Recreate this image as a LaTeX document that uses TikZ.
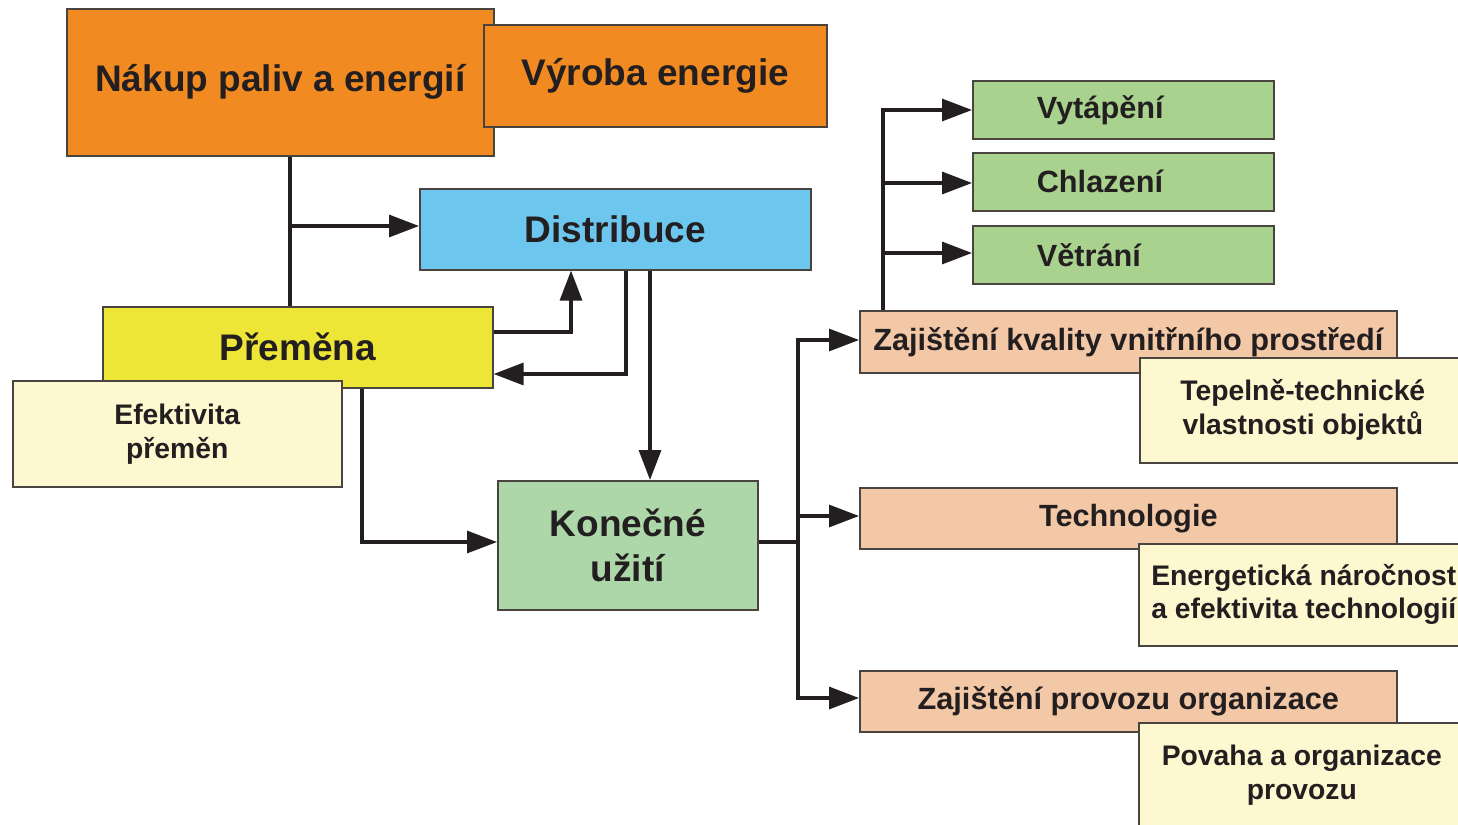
\documentclass[tikz,border=0pt]{standalone}
\usepackage{fontspec}
\newfontfamily\lbl{Liberation Sans}
\usetikzlibrary{arrows.meta,backgrounds}
\definecolor{orng}{HTML}{F28A22}
\definecolor{blu}{HTML}{6DC6EE}
\definecolor{yel}{HTML}{EEE637}
\definecolor{lyel}{HTML}{FEF8D0}
\definecolor{grnA}{HTML}{ADD7A8}
\definecolor{grnB}{HTML}{A9D28F}
\definecolor{salm}{HTML}{F3C8A6}
\definecolor{boxedge}{HTML}{4A4440}
\definecolor{txt}{HTML}{231F20}
\begin{document}
\begin{tikzpicture}[x=1pt,y=-1pt,
  box/.style={draw=boxedge,line width=1.6pt,inner sep=0pt,align=center,
    font=\lbl\bfseries,text=txt,anchor=north west},
  big/.style={font=\lbl\bfseries\fontsize{37}{45}\selectfont},
  mid/.style={font=\lbl\bfseries\fontsize{30.7}{34}\selectfont},
  sml/.style={font=\lbl\bfseries\fontsize{28.3}{34}\selectfont},
  grbox/.style={box,mid,fill=grnB,minimum width=301,minimum height=58,
    text width=173,inner xsep=64,align=left},
  conn/.style={line width=3.2pt,draw=txt,line cap=rect},
  arr/.style={line width=3.2pt,draw=txt,-{Triangle[length=30pt,width=22pt]}}]
\begin{scope}[on background layer]
\fill[white] (0,0) rectangle (1458,824);
\end{scope}
\useasboundingbox (0,0) rectangle (1458,824);
% top
\node[box,big,fill=orng,minimum width=427,minimum height=147] (nakup) at (66,8) {N\'akup paliv a energi\'i};
\node[box,big,fill=orng,minimum width=343,minimum height=102] (vyroba) at (483,24) {V\'yroba energie};
\node[box,big,fill=blu,minimum width=391,minimum height=81] (distrib) at (419,188) {Distribuce};
\node[box,big,fill=yel,minimum width=390,minimum height=81] (premena) at (102,306) {P\v{r}em\v{e}na};
\node[box,sml,fill=lyel,minimum width=329,minimum height=106] (efekt) at (12,380) {Efektivita\\p\v{r}em\v{e}n};
\node[box,big,fill=grnA,minimum width=260,minimum height=129] (konec) at (497,480) {Kone\v{c}n\'e\\u\v{z}it\'i};
% right greens
\node[grbox] (vyt) at (972,80) {Vyt\'ap\v{e}n\'i};
\node[grbox] (chl) at (972,152) {Chlazen\'i};
\node[grbox] (vet) at (972,225) {V\v{e}tr\'an\'i};
% salmon
\node[box,mid,fill=salm,minimum width=537,minimum height=62] (zk) at (859,310) {Zaji\v{s}t\v{e}n\'i kvality vnit\v{r}n\'iho prost\v{r}ed\'i};
\node[box,sml,fill=lyel,minimum width=326,minimum height=105] (tep) at (1139,357) {Tepeln\v{e}-technick\'e\\vlastnosti objekt\r{u}};
\node[box,mid,fill=salm,minimum width=537,minimum height=61] (tech) at (859,487) {Technologie};
\node[box,sml,fill=lyel,minimum width=330,minimum height=102,font=\lbl\bfseries\fontsize{28.3}{33}\selectfont] (ener) at (1138,543) {Energetick\'a n\'aro\v{c}nost\\a efektivita technologi\'i};
\node[box,mid,fill=salm,minimum width=537,minimum height=61] (zp) at (859,670) {Zaji\v{s}t\v{e}n\'i provozu organizace};
\node[box,sml,fill=lyel,minimum width=326,minimum height=105] (pov) at (1138,722) {Povaha a organizace\\provozu};
% connectors
\begin{scope}[on background layer]
\draw[conn] (290,0 |- nakup.south) -- (290,0 |- premena.north);
\draw[conn] (konec.east |- 0,542) -- (798,542);
\draw[conn] (798,340) -- (798,698);
\draw[conn] (883,0 |- zk.north) -- (883,110);
\end{scope}
\coordinate (j1) at (290,226);
\draw[arr] (j1) -- (distrib.west |- j1);
\draw[arr] (premena.east |- 0,332) -| (571,0 |- distrib.south);
\draw[arr] (626,0 |- distrib.south) |- (premena.east |- 0,374);
\draw[arr] (650,0 |- distrib.south) -- (650,0 |- konec.north);
\draw[arr] (362,0 |- premena.south) |- (konec.west |- 0,542);
\coordinate (b1) at (798,340);
\coordinate (b2) at (798,516);
\coordinate (b3) at (798,698);
\draw[arr] (b1) -- (zk.west |- b1);
\draw[arr] (b2) -- (tech.west |- b2);
\draw[arr] (b3) -- (zp.west |- b3);
\coordinate (c1) at (883,110);
\coordinate (c2) at (883,183);
\coordinate (c3) at (883,253);
\draw[arr] (c1) -- (vyt.west |- c1);
\draw[arr] (c2) -- (chl.west |- c2);
\draw[arr] (c3) -- (vet.west |- c3);
\end{tikzpicture}
\end{document}
